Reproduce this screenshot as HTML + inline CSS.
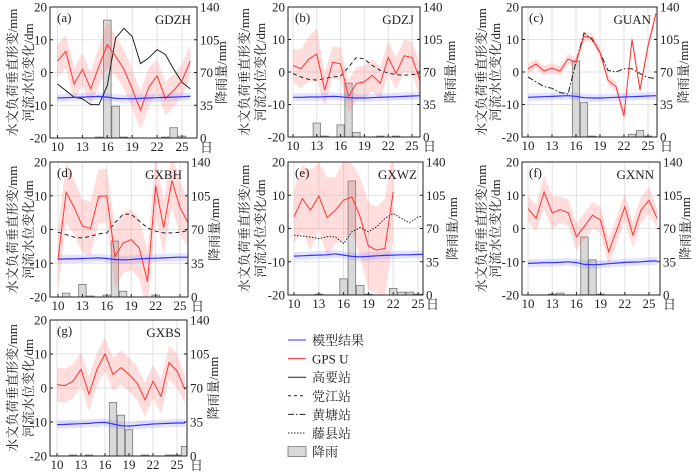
<!DOCTYPE html>
<html><head><meta charset="utf-8">
<style>
body{margin:0;background:#fff;}
svg{display:block;font-family:"Liberation Serif","Noto Serif CJK SC",serif;}
.t{font-size:13px;fill:#222;}
.cj{font-family:"Liberation Serif","Noto Serif CJK SC","Noto Sans CJK SC",serif;font-size:13px;fill:#222;}
</style></head>
<body>
<svg id="chart" width="700" height="473" viewBox="0 0 700 473"></svg>
<script>
const days=[10,11,12,13,14,15,16,17,18,19,20,21,22,23,24,25,26];
const xTicks=[10,13,16,19,22,25];
const yTicksL=[-20,-10,0,10,20];
const yTicksR=[0,35,70,105,140];
// (a) GDZH
const gpsA=[3.5,6.5,-3.5,1,-5,2,8.5,5,1,-5,-11.5,-4.5,-1,-8,-5.5,-2.5,3.5];
const bandA=[5,5,5,5,5,6,7,6,6,6,6,6,5,5,5,5,5];
const modelA=[-7.8,-7.7,-7.6,-7.5,-7.4,-7.3,-7.5,-7.9,-8,-8,-7.9,-7.8,-7.7,-7.6,-7.5,-7.4,-7.3];
const gaugeA=[-3.5,-5.5,-7.5,-8,-9.8,-9.8,-4,10.5,13.5,11,2.7,4.5,7,5.5,1,-3,-5];
const rainA=[0,0,0,0,0,1,126,34,1,0,0,0,0,1,11,2,0];
// (b) GDZJ
const gpsB=[2,1,4,5.5,-5.5,3,2.5,-7.5,-3.5,-3,-1,-3.5,4.5,-0.5,5,4.5,-2.5];
const bandB=[5,6,7,8,5,5,5,5,5,5,5,5,5,5,5,5,5];
const modelB=[-7.8,-7.8,-7.7,-7.7,-7.6,-7.5,-7.6,-7.9,-8,-8,-7.9,-7.8,-7.7,-7.6,-7.5,-7.4,-7.3];
const gaugeB=[-0.5,-1.5,-2.3,-2.5,-2,-1.5,-1.3,1.5,4.5,4,2,0.5,-0.3,-0.8,-1,-0.8,-0.5];
const rainB=[0,0,0,15,1,0,13,58,5,0,0,1,0,1,0,0,0];
// (c) GUAN
const gpsC=[1,2.5,0.3,1.2,0.3,4,3,11,10.5,6,-2.5,-4.5,-13.5,10,-5.5,8,18];
const bandC=[1.5,1.5,1.5,1.5,1.5,1.5,1.5,1.5,1.5,1.5,1.5,1.5,2,1.5,1.5,1.5,1.5];
const modelC=[-7.8,-7.7,-7.6,-7.5,-7.4,-7.3,-7.5,-7.9,-8,-8,-7.9,-7.8,-7.7,-7.6,-7.5,-7.4,-7.3];
const gaugeC=[-1.5,-3,-4.5,-5,-6.3,-6.8,3,12,10,6,0.5,0,1,1,-0.5,-1.7,-2];
const rainC=[0,0,0,0,0,0,82,37,1,0,0,0,0,3,7,1,0];
// (d) GXBH
const gpsD=[-9,11,6.5,1,0.3,9.8,10,-8,-4,-3,-5.5,-15.5,13,0.5,14.5,6.5,2];
const bandD=[9,9,8,8,8,8,8,9,9,9,9,9,9,8,8,8,7];
const modelD=[-8.8,-8.7,-8.7,-8.6,-8.5,-8.4,-8.6,-8.9,-9,-8.9,-8.7,-8.6,-8.5,-8.4,-8.3,-8.2,-8.2];
const gaugeD=[-0.8,-1.5,-2.3,-2.5,-2,-1.3,-1,2,4.5,4.5,2.5,0.5,-0.5,-1,-1,-0.8,-0.3];
const rainD=[0,4,0,13,1,0,2,58,6,0,0,0,2,0,0,0,0];
// (e) GXWZ
const gpsE=[3.5,9,5.5,9.8,3.3,5.5,8.5,9.5,3.5,-5.3,-6.5,-6,11];
const bandE=[8,10,12,10,12,10,12,10,12,13,13,15,14];
const modelE=[-8.3,-8.2,-8.1,-8,-7.9,-7.6,-8,-8.4,-8.5,-8.4,-8.2,-8.1,-8,-7.9,-7.9,-7.8,-7.8];
const gaugeE=[-2,-2.3,-2.6,-3,-2.5,-2.5,-4.5,-1,0.3,-1,0.5,3,4.5,3,1.7,3.5,3.8];
const rainE=[0,0,0,1,0,0,17,120,10,1,0,0,7,3,3,1,1];
// (f) GXNN
const gpsF=[6,3,11,4.7,5.7,4.7,-2.5,0.7,4,2.5,-7,-0.5,6.5,-2,5.5,8.5,3];
const bandF=[4,4,5,5,4,4,4,4,4,4,4,4,4,4,4,4,3];
const modelF=[-10.5,-10.4,-10.3,-10.3,-10.2,-10,-10.3,-10.8,-10.9,-10.8,-10.6,-10.4,-10.2,-10.1,-10,-9.8,-9.7];
const rainF=[0,0,0,1,2,0,0,61,37,1,0,0,0,0,0,0,0];
// (g) GXBS
const gpsG=[1,0.7,2,5.5,-1.8,5.5,10,4,6,4,1.5,-3.5,2,-2.5,7.5,5,-0.5];
const bandG=[5,5,5,5,5,5,5,5,5,5,5,5,5,5,5,5,4];
const modelG=[-10.8,-10.7,-10.6,-10.5,-10.4,-10.2,-10.1,-10.6,-11.1,-11.2,-11,-10.8,-10.6,-10.5,-10.4,-10.3,-10.3];
const rainG=[0,0,1,0,1,0,0,55,42,27,0,1,0,0,1,1,10];

const panels=[
 {id:'a',st:'GDZH',L:50,R:197,T:7,B:138,x10:57.5,x25:182,gps:gpsA,band:bandA,model:modelA,gauge:gaugeA,dash:'',rain:rainA,yl1:12,yl2:28,yr:221},
 {id:'b',st:'GDZJ',L:288,R:420,T:7,B:137,x10:293,x25:412,gps:gpsB,band:bandB,model:modelB,gauge:gaugeB,dash:'4,3',rain:rainB,yl1:244,yl2:260,yr:450},
 {id:'c',st:'GUAN',L:522,R:657,T:7,B:137,x10:528,x25:648,gps:gpsC,band:bandC,model:modelC,gauge:gaugeC,dash:'6,2,1.5,2',rain:rainC,yl1:481,yl2:495,yr:683},
 {id:'d',st:'GXBH',L:50,R:188,T:162,B:297,x10:58,x25:180,gps:gpsD,band:bandD,model:modelD,gauge:gaugeD,dash:'4,3',rain:rainD,yl1:12,yl2:28,yr:214},
 {id:'e',st:'GXWZ',L:288,R:423,T:162,B:295,x10:294,x25:418,gps:gpsE,band:bandE,model:modelE,gauge:gaugeE,dash:'1.5,1.5',rain:rainE,yl1:244,yl2:260,yr:452},
 {id:'f',st:'GXNN',L:522,R:660,T:162,B:295,x10:528,x25:649,gps:gpsF,band:bandF,model:modelF,gauge:null,dash:'',rain:rainF,yl1:481,yl2:495,yr:685},
 {id:'g',st:'GXBS',L:50,R:187,T:320,B:456,x10:57,x25:177,gps:gpsG,band:bandG,model:modelG,gauge:null,dash:'',rain:rainG,yl1:12,yl2:28,yr:213}
];
const NS='http://www.w3.org/2000/svg';
const svg=document.getElementById('chart');
function mk(tag,attrs,parent,txt){const e=document.createElementNS(NS,tag);for(const k in attrs)e.setAttribute(k,attrs[k]);if(txt!==undefined)e.textContent=txt;(parent||svg).appendChild(e);return e;}
function linePath(xs,ys){return xs.map((x,i)=>(i?'L':'M')+x.toFixed(1)+','+ys[i].toFixed(1)).join('');}
panels.forEach(p=>{
 const g=mk('g',{});
 
 
 const sx=d=>p.x10+(d-10)*(p.x25-p.x10)/15;
 const sy=v=>p.B-(v+20)/40*(p.B-p.T);
 const sr=v=>p.B-v/140*(p.B-p.T);
 const clip='clip'+p.id;
 const cp=mk('clipPath',{id:clip},g);mk('rect',{x:p.L,y:p.T,width:p.R-p.L,height:p.B-p.T},cp);
 xTicks.forEach(t=>{mk('line',{x1:sx(t),x2:sx(t),y1:p.T,y2:p.B,stroke:'#e2e2e2','stroke-width':1},g);});
 yTicksL.forEach(t=>{mk('line',{x1:p.L,x2:p.R,y1:sy(t),y2:sy(t),stroke:'#e2e2e2','stroke-width':1},g);});
 const inner=mk('g',{'clip-path':'url(#'+clip+')'},g);
 const bw=(p.x25-p.x10)/15*0.92;
 p.rain.forEach((v,i)=>{if(v<=0)return;const b=mk('rect',{x:sx(days[i])-bw/2,y:sr(v),width:bw,height:p.B-sr(v),fill:'#d9d9d9',stroke:'#777','stroke-width':0.8},inner);
  
  });
 const n=p.gps.length;const dx=days.slice(0,n).map(sx);
 const up=p.gps.map((v,i)=>sy(v+p.band[i])),lo=p.gps.map((v,i)=>sy(v-p.band[i]));
 const bp=mk('path',{d:linePath(dx,up)+linePath(dx.slice().reverse(),lo.slice().reverse()).replace('M','L')+'Z',fill:'rgba(255,120,120,0.25)'},inner);
 
 
 const mx=days.map(sx);
 const mu=p.model.map(v=>sy(v+1.2)),ml=p.model.map(v=>sy(v-1.2));
 const mb=mk('path',{d:linePath(mx,mu)+linePath(mx.slice().reverse(),ml.slice().reverse()).replace('M','L')+'Z',fill:'rgba(120,120,255,0.2)'},inner);
 
 
 if(p.gauge){const gl=mk('path',{d:linePath(mx,p.gauge.map(sy)),fill:'none',stroke:'#222','stroke-width':1,'stroke-dasharray':p.dash},inner);
  
  }
 const gp=mk('path',{d:linePath(dx,p.gps.map(sy)),fill:'none',stroke:'#f33','stroke-width':1},inner);
 
 
 const ml2=mk('path',{d:linePath(mx,p.model.map(sy)),fill:'none',stroke:'#33f','stroke-width':1.2},inner);
 
 
 mk('rect',{x:p.L,y:p.T,width:p.R-p.L,height:p.B-p.T,fill:'none',stroke:'#222','stroke-width':1},g);
 yTicksL.forEach((t,i)=>{const y=sy(t);
  mk('line',{x1:p.L,x2:p.L+3,y1:y,y2:y,stroke:'#222'},g);mk('line',{x1:p.R,x2:p.R-3,y1:y,y2:y,stroke:'#222'},g);
  mk('text',{x:p.L-3,y:y+4.5,'text-anchor':'end',class:'t'},g,String(t));
  mk('text',{x:p.R+3,y:y+4.5,'text-anchor':'start',class:'t'},g,String(yTicksR[i]));});
 xTicks.forEach(t=>{const x=sx(t);mk('line',{x1:x,x2:x,y1:p.B,y2:p.B-3,stroke:'#222'},g);
  mk('text',{x:x,y:p.B+13,'text-anchor':'middle',class:'t'},g,String(t));});
 mk('text',{x:p.R+3,y:p.B+14,class:'cj'},g,'日');
 mk('text',{x:p.L+7,y:p.T+15,class:'t'},g,'('+p.id+')');
 mk('text',{x:p.R-6,y:p.T+17,'text-anchor':'end',class:'t'},g,p.st);
 const cy=(p.T+p.B)/2;
 mk('text',{x:0,y:0,class:'cj','text-anchor':'middle',transform:`translate(${p.yl1+5},${cy}) rotate(-90)`},g,'水文负荷垂直形变/mm');
 mk('text',{x:0,y:0,class:'cj','text-anchor':'middle',transform:`translate(${p.yl2+5},${cy}) rotate(-90)`},g,'河流水位变化/dm');
 mk('text',{x:0,y:0,class:'cj','text-anchor':'middle',transform:`translate(${p.yr+5},${cy}) rotate(-90)`},g,'降雨量/mm');
});
const lg=mk('g',{});


const legItems=[['模型结果','#33f',''],['GPS U','#f33',''],['高要站','#222',''],['党江站','#222','3,3'],['黄塘站','#222','6,2,1.5,2'],['藤县站','#222','1.5,1.5'],['降雨','rect','']];
legItems.forEach((it,i)=>{const y=340+i*18.6;
 const e=mk('g',{},lg);
 
 
 if(it[1]==='rect')mk('rect',{x:288,y:y-5,width:18,height:10,fill:'#d9d9d9',stroke:'#777','stroke-width':0.8},e);
 else mk('line',{x1:288,x2:306,y1:y,y2:y,stroke:it[1],'stroke-width':1,'stroke-dasharray':it[2]},e);
 mk('text',{x:312,y:y+5,class:'cj'},e,it[0]);});
</script>
</body></html>
